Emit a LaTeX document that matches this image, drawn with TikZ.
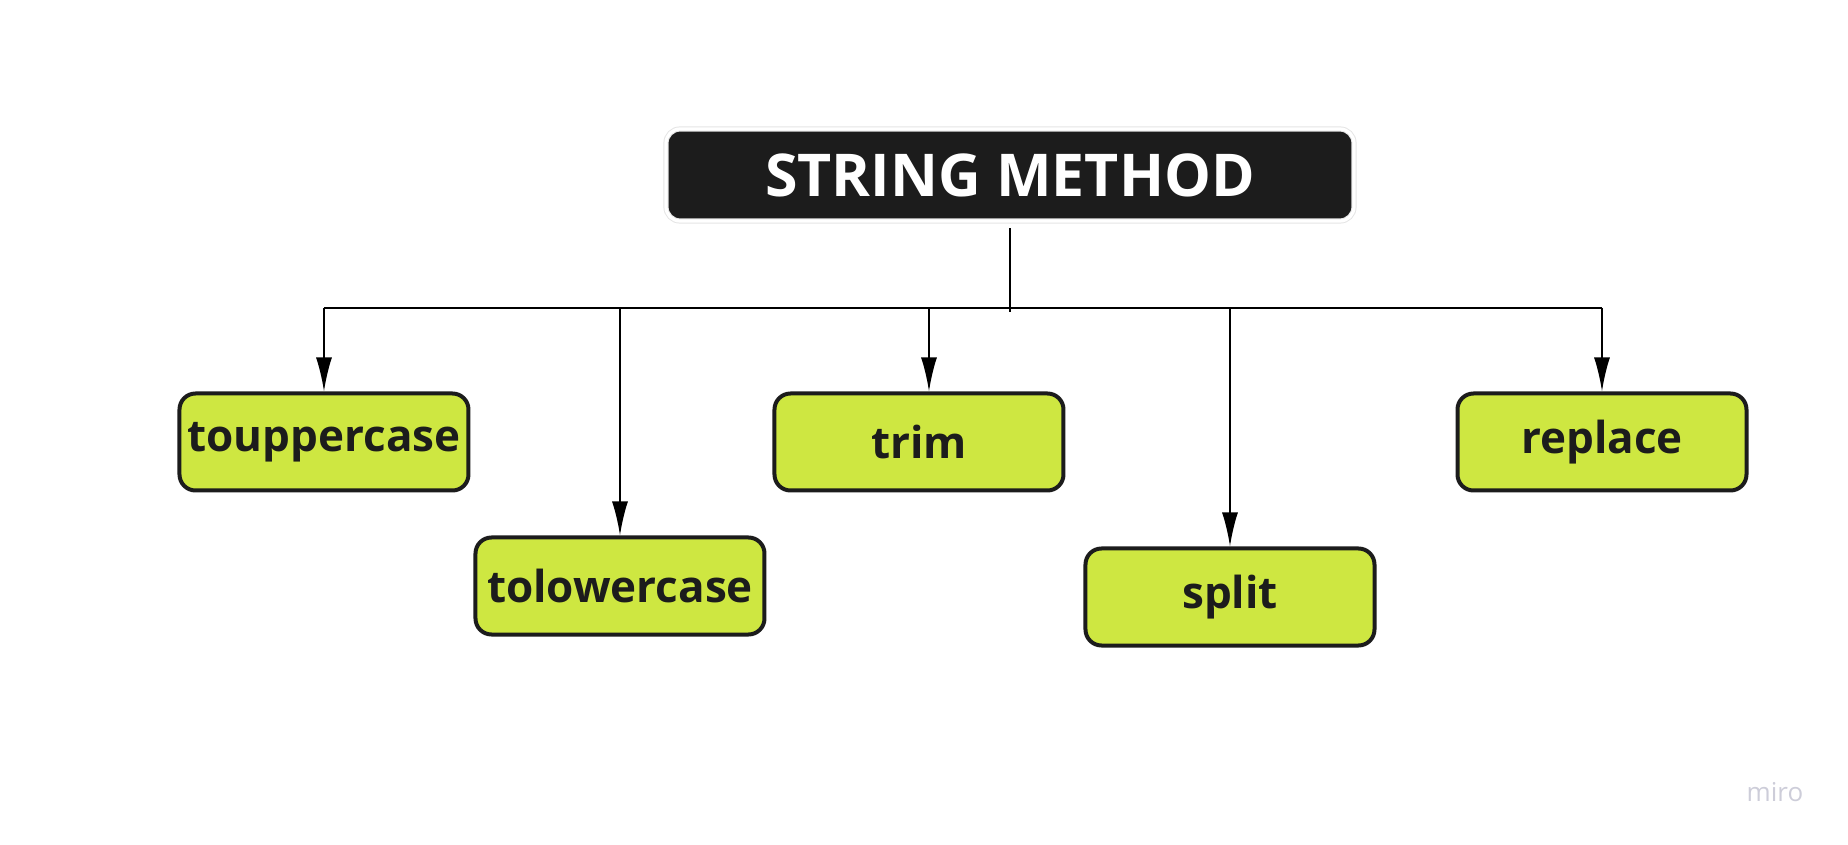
\documentclass[tikz,border=0pt]{standalone}
\usepackage{fontspec}
\setmainfont{Open Sans}
\usetikzlibrary{arrows.meta}
\definecolor{methodlime}{HTML}{CEE741}
\definecolor{inkdark}{HTML}{1C1C1C}
\definecolor{logogray}{HTML}{CDCDD9}
\tikzset{
    methodbox/.style = {draw = inkdark, line width = 2pt, fill = methodlime,
        rounded corners = 8pt, minimum width = 144.5pt, minimum height = 48.5pt,
        text = inkdark, font = \fontsize{22}{26}\selectfont\bfseries},
    headbox/.style = {draw = gray!20, double = white, double distance = 1.6pt,
        line width = 0.5pt, fill = inkdark, rounded corners = 7pt,
        minimum width = 344pt, minimum height = 46pt,
        text = white, font = \fontsize{29.5}{34}\selectfont\bfseries},
    link/.style = {line width = 1pt, draw = black},
    drop/.style = {link, -{Latex[length = 17pt, width = 8pt]}}
}
\begin{document}
\begin{tikzpicture}[
    node distance = 133.5pt
]
\useasboundingbox (-505pt,87.5pt) rectangle (419pt,-335pt);
\node[headbox] (top) {STRING METHOD};
\node[methodbox] (upper) [below of = top, xshift = -343pt] {touppercase};
\node[methodbox] (lower) [below of = top, xshift = -195pt, yshift = -72pt] {tolowercase};
\node[methodbox] (trim) [below of = top, xshift = -45.5pt] {trim};
\node[methodbox] (split) [below of = top, xshift = 110pt, yshift = -77.5pt] {split};
\node[methodbox] (replace) [below of = top, xshift = 296pt] {replace};
\node[text = logogray, font = \fontsize{13}{15}\selectfont] (logo) at (382.5pt,-308.5pt) {miro};
% connectors
\coordinate (bus) at (0,-66.5pt);
\draw[link] ([yshift = -3.5pt]top.south) -- ([yshift = -2pt]bus);
\draw[link] (upper.north |- bus) -- (replace.north |- bus);
\draw[drop] (upper.north |- bus) -- (upper);
\draw[drop] (lower.north |- bus) -- (lower);
\draw[drop] ([xshift = 5pt]trim.north |- bus) -- ([xshift = 5pt]trim.north);
\draw[drop] (split.north |- bus) -- (split);
\draw[drop] (replace.north |- bus) -- (replace);

\end{tikzpicture}
\end{document}
